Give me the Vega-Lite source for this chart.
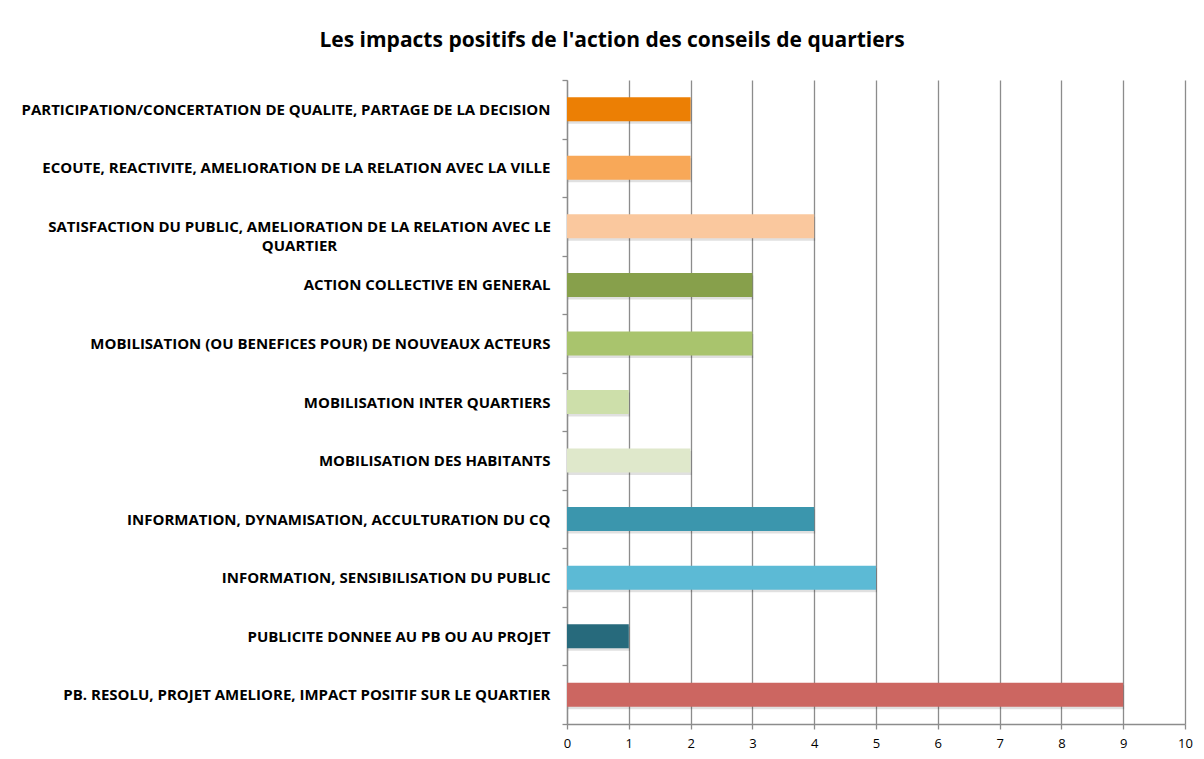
{
  "$schema": "https://vega.github.io/schema/vega-lite/v6.json",
  "width": 618,
  "height": 644,
  "autosize": {"type": "none"},
  "padding": {"left": 567, "top": 80, "right": 19, "bottom": 35},
  "background": "white",
  "title": {
    "text": "Les impacts positifs de l'action des conseils de quartiers",
    "font": "Open Sans",
    "fontSize": 21,
    "fontWeight": "bold",
    "color": "#000000",
    "anchor": "middle",
    "dx": -264,
    "offset": 22
  },
  "config": {"view": {"stroke": null}},
  "data": {
    "values": [
      {"category": "PARTICIPATION/CONCERTATION DE QUALITE, PARTAGE DE LA DECISION", "value": 2},
      {"category": "ECOUTE, REACTIVITE, AMELIORATION DE LA RELATION AVEC LA VILLE", "value": 2},
      {"category": "SATISFACTION DU PUBLIC, AMELIORATION DE LA RELATION AVEC LE QUARTIER", "value": 4},
      {"category": "ACTION COLLECTIVE EN GENERAL", "value": 3},
      {"category": "MOBILISATION (OU BENEFICES POUR) DE NOUVEAUX ACTEURS", "value": 3},
      {"category": "MOBILISATION INTER QUARTIERS", "value": 1},
      {"category": "MOBILISATION DES HABITANTS", "value": 2},
      {"category": "INFORMATION, DYNAMISATION, ACCULTURATION DU CQ", "value": 4},
      {"category": "INFORMATION, SENSIBILISATION DU PUBLIC", "value": 5},
      {"category": "PUBLICITE DONNEE AU PB OU AU PROJET", "value": 1},
      {"category": "PB. RESOLU, PROJET AMELIORE, IMPACT POSITIF SUR LE QUARTIER", "value": 9}
    ]
  },
  "encoding": {
    "y": {
      "field": "category",
      "type": "nominal",
      "sort": null,
      "scale": {"paddingInner": 0, "paddingOuter": 0},
      "axis": {
        "title": null,
        "tickBand": "extent",
        "tickSize": 5,
        "tickColor": "#8c8c8c",
        "tickWidth": 1.3,
        "domainColor": "#8c8c8c",
        "domainWidth": 1.3,
        "labelFont": "Open Sans",
        "labelFontSize": 15,
        "labelFontWeight": "bold",
        "labelColor": "#000000",
        "labelLimit": 0,
        "labelLineHeight": 19,
        "labelAlign": {"condition": {"test": "datum.value == 'SATISFACTION DU PUBLIC, AMELIORATION DE LA RELATION AVEC LE QUARTIER'", "value": "center"}, "value": "right"},
        "labelPadding": {"condition": {"test": "datum.value == 'SATISFACTION DU PUBLIC, AMELIORATION DE LA RELATION AVEC LE QUARTIER'", "value": 263}, "value": 12},
        "labelExpr": "datum.value == 'SATISFACTION DU PUBLIC, AMELIORATION DE LA RELATION AVEC LE QUARTIER' ? ['SATISFACTION DU PUBLIC, AMELIORATION DE LA RELATION AVEC LE', 'QUARTIER'] : datum.value"
      }
    },
    "x": {
      "field": "value",
      "type": "quantitative",
      "scale": {"domain": [0, 10]},
      "axis": {
        "title": null,
        "values": [0, 1, 2, 3, 4, 5, 6, 7, 8, 9, 10],
        "grid": true,
        "gridColor": "#8c8c8c",
        "gridWidth": 1.3,
        "domainColor": "#8c8c8c",
        "domainWidth": 1.3,
        "tickColor": "#8c8c8c",
        "tickWidth": 1.3,
        "tickSize": 5,
        "labelFont": "Open Sans",
        "labelFontSize": 13,
        "labelColor": "#000000",
        "labelPadding": 8,
        "labelFlush": false
      }
    }
  },
  "layer": [
    {
      "mark": {"type": "bar", "size": 24, "color": "#000000", "opacity": 0.12, "yOffset": 2.5, "xOffset": 1}
    },
    {
      "mark": {"type": "bar", "size": 24},
      "encoding": {
        "color": {
          "field": "category",
          "type": "nominal",
          "legend": null,
          "scale": {
            "domain": [
              "PARTICIPATION/CONCERTATION DE QUALITE, PARTAGE DE LA DECISION",
              "ECOUTE, REACTIVITE, AMELIORATION DE LA RELATION AVEC LA VILLE",
              "SATISFACTION DU PUBLIC, AMELIORATION DE LA RELATION AVEC LE QUARTIER",
              "ACTION COLLECTIVE EN GENERAL",
              "MOBILISATION (OU BENEFICES POUR) DE NOUVEAUX ACTEURS",
              "MOBILISATION INTER QUARTIERS",
              "MOBILISATION DES HABITANTS",
              "INFORMATION, DYNAMISATION, ACCULTURATION DU CQ",
              "INFORMATION, SENSIBILISATION DU PUBLIC",
              "PUBLICITE DONNEE AU PB OU AU PROJET",
              "PB. RESOLU, PROJET AMELIORE, IMPACT POSITIF SUR LE QUARTIER"
            ],
            "range": ["#ec7f04", "#f8a858", "#fac89e", "#87a04b", "#a9c46d", "#cddfaa", "#dfe8cb", "#3b96ad", "#5cbad5", "#276a7c", "#cc6661"]
          }
        }
      }
    }
  ]
}
